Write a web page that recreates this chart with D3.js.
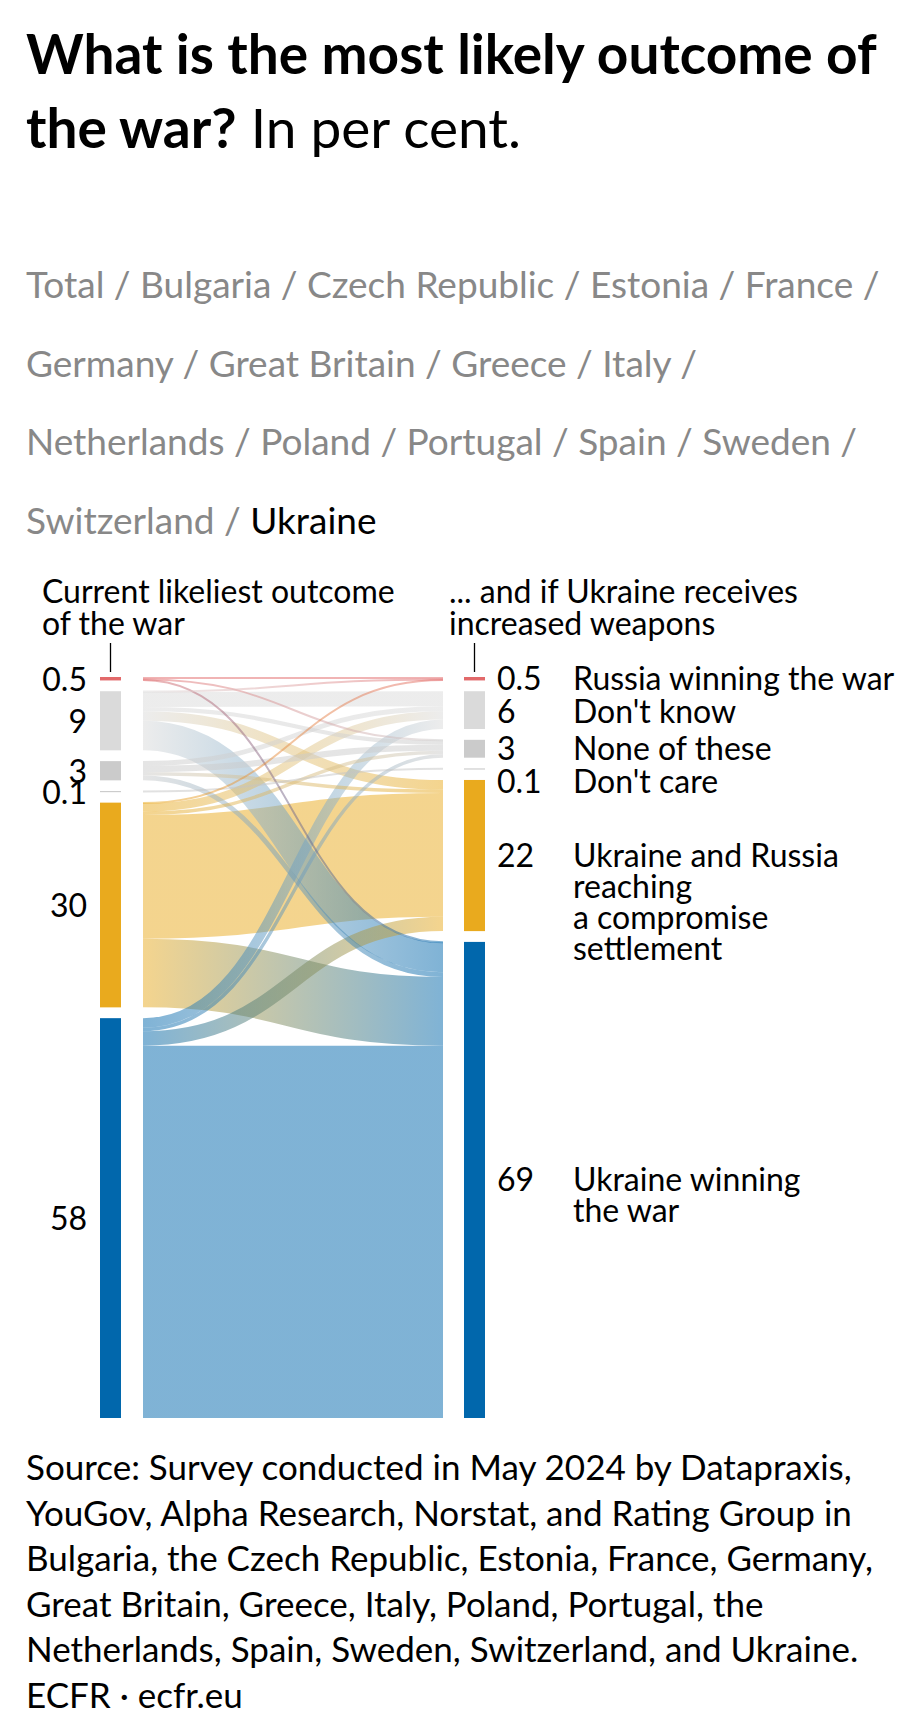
<!DOCTYPE html>
<html>
<head>
<meta charset="utf-8">
<script src="https://cdn.jsdelivr.net/npm/d3@7"></script>
<style>
  body { margin: 0; background: #fff; }
  text { font-family: Lato, "Liberation Sans", sans-serif; }
</style>
</head>
<body>
<svg id="chart"></svg>
<script>
// outcome categories, top to bottom
const categories = ["Russia winning the war", "Don't know", "None of these", "Don't care",
                    "Ukraine and Russia reaching a compromise settlement", "Ukraine winning the war"];
const categoryLines = [["Russia winning the war"], ["Don't know"], ["None of these"], ["Don't care"],
                       ["Ukraine and Russia", "reaching", "a compromise", "settlement"],
                       ["Ukraine winning", "the war"]];
// rows: current likeliest outcome, columns: outcome if Ukraine receives increased weapons
const flows = [
    [0.3, 0.0, 0.1, 0.0, 0.0, 0.1],
    [0.1, 2.2, 0.6, 0.0, 1.4, 4.3],
    [0.0, 0.7, 0.9, 0.0, 0.5, 0.7],
    [0.0, 0.0, 0.0, 0.1, 0.0, 0.0],
    [0.1, 1.2, 0.5, 0.0, 18.0, 10.0],
    [0.0, 1.4, 0.5, 0.0, 2.1, 54.2]
];
const countryRows = [
    ["Total", "Bulgaria", "Czech Republic", "Estonia", "France"],
    ["Germany", "Great Britain", "Greece", "Italy"],
    ["Netherlands", "Poland", "Portugal", "Spain", "Sweden"],
    ["Switzerland", "Ukraine"]
];
const selectedCountry = "Ukraine";
const columnTitles = [["Current likeliest outcome", "of the war"],
                      ["... and if Ukraine receives", "increased weapons"]];
const sourceLines = [
    "Source: Survey conducted in May 2024 by Datapraxis,",
    "YouGov, Alpha Research, Norstat, and Rating Group in",
    "Bulgaria, the Czech Republic, Estonia, France, Germany,",
    "Great Britain, Greece, Italy, Poland, Portugal, the",
    "Netherlands, Spain, Sweden, Switzerland, and Ukraine.",
    "ECFR \u00b7 ecfr.eu"
];

const nodeColors = ["#e2696a", "#dadada", "#cbcbcb", "#c4c4c4", "#e9aa1e", "#0167ac"];

const W = 910, H = 1720;
const svg = d3.select("#chart").attr("width", W).attr("height", H);

// ---- title ----
const title = svg.append("text").attr("x", 26).attr("y", 74)
    .attr("font-size", 55).attr("font-weight", "bold").attr("fill", "#000");
title.append("tspan").text("What is the most likely outcome of");
const t2 = svg.append("text").attr("x", 26).attr("y", 148).attr("font-size", 55).attr("fill", "#000");
t2.append("tspan").attr("font-weight", "bold").text("the war?");
t2.append("tspan").text(" In per cent.");

// ---- country selector ----
countryRows.forEach((row, i) => {
    const t = svg.append("text").attr("x", 26).attr("y", 298 + i * 78.5).attr("font-size", 37);
    row.forEach((c, k) => {
        t.append("tspan").attr("fill", c === selectedCountry ? "#000" : "#888").text(c);
        if (k < row.length - 1 || i < countryRows.length - 1)
            t.append("tspan").attr("fill", "#888").text(" / ");
    });
});

// ---- sankey layout ----
const round1 = v => Math.round(v * 10) / 10;
const leftValues = flows.map(r => round1(d3.sum(r)));
const rightValues = categories.map((c, j) => round1(d3.sum(flows, r => r[j])));
const total = d3.sum(leftValues);

const yTop = 677, yBottom = 1418, pad = 10.8;
const yscale = d3.scaleLinear()
    .domain([0, total])
    .range([0, (yBottom - yTop) - pad * (categories.length - 1)]);

function stack(values) {
    let y = yTop;
    return values.map(v => {
        const n = { y0: y, y1: y + yscale(v), value: v };
        y = n.y1 + pad;
        return n;
    });
}
const leftNodes = stack(leftValues);
const rightNodes = stack(rightValues);

const nodeW = 21;
const xLeft = 100, xRight = 464;
const linkX0 = 143, linkX1 = 443;

// link offsets: outgoing in target order, incoming in source order
const links = [];
const outY = leftNodes.map(n => n.y0);
const inY = rightNodes.map(n => n.y0);
flows.forEach((row, i) => {
    row.forEach((v, j) => {
        if (v <= 0) return;
        const w = yscale(v);
        links.push({ i, j, v, w, ys: outY[i] + w / 2 });
        outY[i] += w;
    });
});
for (let j = 0; j < categories.length; j++) {
    links.filter(l => l.j === j).sort((a, b) => a.i - b.i).forEach(l => {
        l.yt = inY[j] + l.w / 2;
        inY[j] += l.w;
    });
}

const defs = svg.append("defs");
links.forEach((l, k) => {
    l.id = "lg" + k;
    const g = defs.append("linearGradient")
        .attr("id", l.id)
        .attr("gradientUnits", "userSpaceOnUse")
        .attr("x1", linkX0).attr("x2", linkX1).attr("y1", 0).attr("y2", 0);
    g.append("stop").attr("offset", "0%").attr("stop-color", nodeColors[l.i]);
    g.append("stop").attr("offset", "100%").attr("stop-color", nodeColors[l.j]);
});

const linkPath = d3.linkHorizontal();
svg.append("g").selectAll("path")
    .data(links.slice().sort((a, b) => b.w - a.w))
    .join("path")
    .attr("d", l => linkPath({ source: [linkX0, l.ys], target: [linkX1, l.yt] }))
    .attr("fill", "none")
    .attr("stroke", l => `url(#${l.id})`)
    .attr("stroke-width", l => Math.max(2, l.w))
    .attr("stroke-opacity", 0.5);

// nodes
[[leftNodes, xLeft], [rightNodes, xRight]].forEach(([nodes, x]) => {
    svg.append("g").selectAll("rect")
        .data(nodes)
        .join("rect")
        .attr("x", x)
        .attr("y", d => d.y0)
        .attr("width", nodeW)
        .attr("height", d => Math.max(1, d.y1 - d.y0))
        .attr("fill", (d, i) => nodeColors[i]);
});

// column titles and tick marks
const fs = 32;
columnTitles.forEach((lines, c) => {
    const tx = c === 0 ? 42 : 449;
    const t = svg.append("text").attr("x", tx).attr("y", 603).attr("font-size", fs);
    lines.forEach((s, k) => t.append("tspan").attr("x", tx).attr("dy", k ? 32 : 0).text(s));
    const cx = (c === 0 ? xLeft : xRight) + nodeW / 2;
    svg.append("line").attr("x1", cx).attr("x2", cx).attr("y1", 643).attr("y2", 672)
        .attr("stroke", "#000").attr("stroke-width", 1.3);
});

const fmt = v => v < 1 ? v.toFixed(1) : String(Math.round(v));

// left values
svg.append("g").selectAll("text")
    .data(leftNodes)
    .join("text")
    .attr("x", 87)
    .attr("y", d => (d.y0 + d.y1) / 2 + 1)
    .attr("dy", "0.35em")
    .attr("text-anchor", "end")
    .attr("font-size", fs)
    .text(d => fmt(d.value));

// right values + categories, pushed apart when crowded
let prev = -Infinity;
rightNodes.forEach(n => {
    n.ly = Math.max((n.y0 + n.y1) / 2, prev + 33);
    prev = n.ly;
});
svg.append("g").selectAll("text")
    .data(rightNodes)
    .join("text")
    .attr("x", 497)
    .attr("y", d => d.ly)
    .attr("dy", "0.35em")
    .attr("font-size", fs)
    .text(d => fmt(d.value));
rightNodes.forEach((n, i) => {
    const t = svg.append("text").attr("x", 573).attr("y", n.ly).attr("font-size", fs);
    categoryLines[i].forEach((s, k) => t.append("tspan").attr("x", 573).attr("dy", k ? 31 : "0.35em").text(s));
});

// ---- source ----
sourceLines.forEach((s, i) => {
    svg.append("text").attr("x", 26).attr("y", 1480 + i * 45.6)
        .attr("font-size", 35).attr("fill", "#000").text(s);
});
</script>
</body>
</html>
